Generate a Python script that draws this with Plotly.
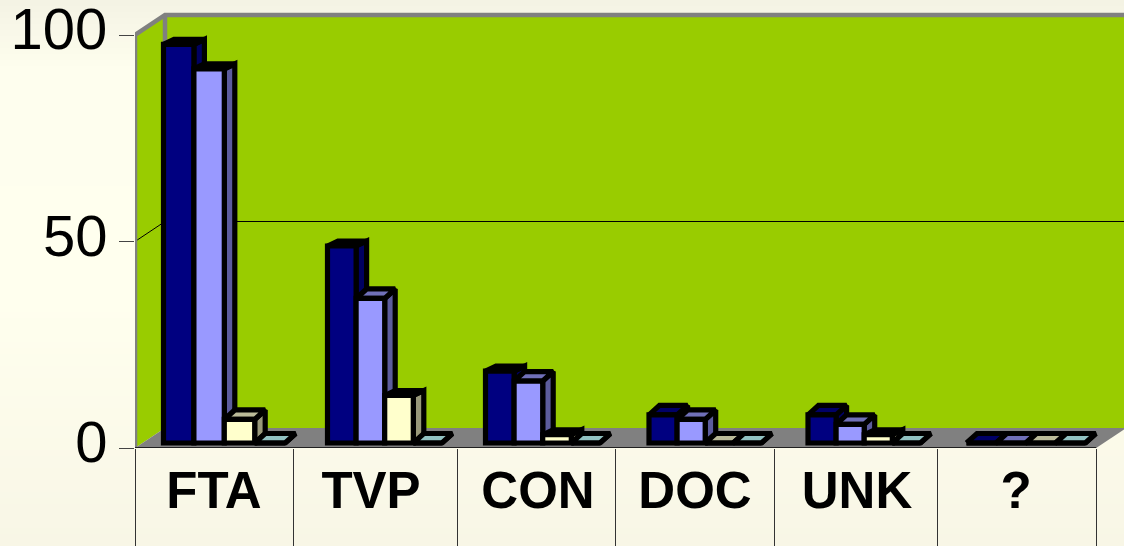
import plotly.graph_objects as go

categories = ["FTA", "TVP", "CON", "DOC", "UNK", "?"]
navy_values = [96.5, 47.7, 17.4, 6.8, 6.8, 0]
lilac_values = [90.6, 35, 15, 5.7, 4.5, 0]
cream_values = [5.7, 11.5, 2, 0, 2, 0]
teal_values = [0, 0, 0, 0, 0, 0]
y_ticks = [0, 50, 100]

# ---- layout geometry (pixels of the 1124x546 picture) ----
W, H = 1124, 546
LEFT, BOTTOM = 135, 448
CAT_PX = 160.2
VAL_PX = 4.13
X0 = -0.5
X_MAX = X0 + (W - LEFT) / CAT_PX
Y_MAX = BOTTOM / VAL_PX


def px_x(p):
    return X0 + (p - LEFT) / CAT_PX


WALL_DX = 30 / CAT_PX
WALL_DY = 20 / VAL_PX
BAR_DX = 10.5 / CAT_PX
BAR_BASE = 5 / VAL_PX
STROKE = 5.2
GROUP_START = [px_x(p) for p in (163.5, 327.5, 485.5, 649, 808, 966.5)]
GROUP_BAR_W = [p / CAT_PX for p in (30.4, 28.6, 28.6, 28.1, 28.1, 29.7)]
CAP_DEPTHS = [
    [5, 5, 5, 9.5, 9.5, 9.5],
    [5, 9.5, 9.5, 9.5, 9.5, 9.5],
    [9.5, 5, 5, 9.5, 5, 9.5],
    [9.5, 9.5, 9.5, 9.5, 9.5, 9.5],
]
SEP_TICKS = [px_x(p) for p in (135, 293, 457, 615, 774, 937, 1096)]
LABEL_TICKS = [px_x(p) for p in (214, 371, 538, 695, 857, 1016)]

GREEN, GREY = "#99CC00", "#808080"
series = [
    (navy_values, "#000080", "#000060", "#000066"),
    (lilac_values, "#9999FF", "#5C5C9C", "#7070B8"),
    (cream_values, "#FFFFCC", "#99997A", "#BBBB99"),
    (teal_values, "#CCFFFF", "#7FA8A8", "#92C2C2"),
]

fig = go.Figure()


def poly(xs, ys, fill, z, line=GREY, width=0):
    fig.add_trace(go.Scatter(x=xs, y=ys, mode="lines", fill="toself", fillcolor=fill,
                             line=dict(color=line, width=width), hoverinfo="skip",
                             showlegend=False, zorder=z))


def path(xs, ys, color, width, z):
    fig.add_trace(go.Scatter(x=xs, y=ys, mode="lines", line=dict(color=color, width=width),
                             hoverinfo="skip", showlegend=False, zorder=z))


xb = X0 + WALL_DX
x_r = 5.5 + WALL_DX
# walls and floor
poly([xb, xb, x_r, x_r, xb], [WALL_DY, 100 + WALL_DY, 100 + WALL_DY, WALL_DY, WALL_DY], GREEN, -30)
poly([X0, X0, xb, xb, X0], [0, 100, 100 + WALL_DY, WALL_DY, 0], GREEN, -29)
poly([X0, xb, x_r, 5.5, X0], [0, WALL_DY, WALL_DY, 0, 0], GREY, -28)
# gridline on the walls
path([X0, xb, x_r], [50, 50 + WALL_DY, 50 + WALL_DY], "#000000", 1, -27)
# wall edges
path([X0, X0, xb, x_r], [0, 100, 100 + WALL_DY, 100 + WALL_DY], GREY, 4.5, -26)
path([xb, xb], [WALL_DY, 100 + WALL_DY], GREY, 4.5, -26)
# front axis line
path([X0, 5.5], [0, 0], "#000000", 1.5, -25)

for s, (vals, front, side, cap) in enumerate(series):
    xc, side_x, side_y, cap_x, cap_y = [], [], [], [], []
    for i, v in enumerate(vals):
        bw = GROUP_BAR_W[i]
        xl = GROUP_START[i] + s * bw
        xr = xl + bw
        xc.append(xl + bw / 2)
        top = BAR_BASE + v
        d = CAP_DEPTHS[s][i] / VAL_PX
        side_x += [xr, xr, xr + BAR_DX, xr + BAR_DX, xr, None]
        side_y += [BAR_BASE, top, top + d, BAR_BASE + d, BAR_BASE, None]
        cap_x += [xl, xr, xr + BAR_DX, xl + BAR_DX, xl, None]
        cap_y += [top, top, top + d, top + d, top, None]
    poly(side_x, side_y, side, 3 * s + 1, "#000000", STROKE)
    poly(cap_x, cap_y, cap, 3 * s + 2, "#000000", STROKE)
    fig.add_trace(go.Bar(x=xc, y=vals, base=BAR_BASE, width=GROUP_BAR_W,
                         marker=dict(color=front, line=dict(color="#000000", width=STROKE)),
                         showlegend=False, hoverinfo="skip", zorder=3 * s + 3))

# page background gradient
stops = [(0, (0xF4, 0xF2, 0xE4)), (70, (0xFE, 0xFE, 0xEE)), (300, (0xFF, 0xFF, 0xEE)), (546, (0xF8, 0xF6, 0xE6))]


def bg(y):
    for (a, ca), (b, cb) in zip(stops, stops[1:]):
        if y <= b:
            t = (y - a) / (b - a)
            return "rgb(%d,%d,%d)" % tuple(round(p + (q - p) * t) for p, q in zip(ca, cb))


strips = []
for y in range(0, H, 6):
    strips.append(dict(type="rect", xref="paper", yref="paper", layer="below", x0=0, x1=1,
                       y0=1 - y / H, y1=1 - (y + 6) / H, fillcolor=bg(y + 3), line=dict(width=0)))

fig.update_layout(
    width=W, height=H, margin=dict(l=0, r=0, t=0, b=0), autosize=False,
    paper_bgcolor="#FFFFEE", plot_bgcolor="rgba(0,0,0,0)", barmode="overlay", showlegend=False,
    shapes=strips, font=dict(family="Liberation Sans, Arial, sans-serif", color="#000000"),
    xaxis=dict(domain=[LEFT / W, 1], range=[X0, X_MAX], showgrid=False, zeroline=False, showline=False,
               automargin=False,
               tickmode="array", tickvals=LABEL_TICKS, ticktext=categories, ticks="outside", ticklen=18,
               tickcolor="rgba(0,0,0,0)", tickangle=0, ticklabelstandoff=-20,
               tickfont=dict(size=51, family="Liberation Sans, Arial, sans-serif", weight="bold"),
               minor=dict(ticks="outside", tickmode="array", tickvals=SEP_TICKS, ticklen=98, tickcolor="#333333", tickwidth=1)),
    yaxis=dict(domain=[(H - BOTTOM) / H, 1], range=[0, Y_MAX], showgrid=False, zeroline=False, showline=False,
               automargin=False,
               tickmode="array", tickvals=y_ticks, ticktext=[str(t) for t in y_ticks], ticks="outside", ticklen=15,
               tickcolor="#444444", tickwidth=1, ticklabelstandoff=0, ticklabelshift=-6,
               ticklabeloverflow="allow", tickfont=dict(size=58)),
)
fig.write_html("out.html", config={"displayModeBar": False},
               post_script="document.body.style.margin='0';document.body.style.overflow='hidden';")
